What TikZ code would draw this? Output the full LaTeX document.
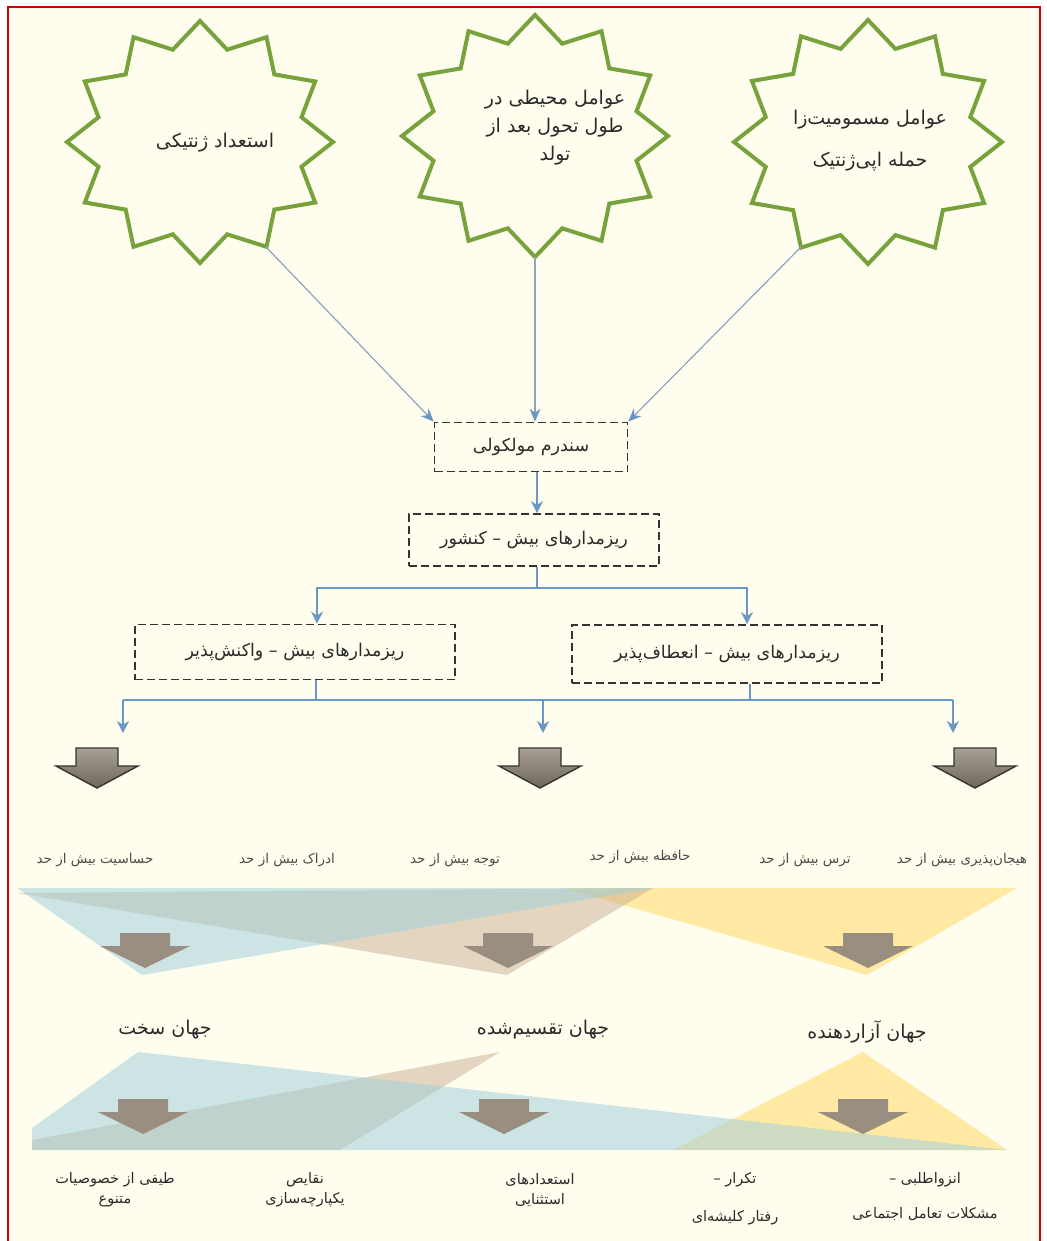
\documentclass[tikz,border=0pt]{standalone}
\usepackage{fontspec}
\newfontfamily\fafont[Script=Arabic]{DejaVu Sans}
\TeXXeTstate=1
\usetikzlibrary{arrows.meta,calc}
\definecolor{cream}{HTML}{FFFEEE}
\definecolor{stargreen}{HTML}{78A33C}
\definecolor{connblue}{HTML}{6A97C6}
\definecolor{thinline}{HTML}{8FA3BC}
\definecolor{txt}{HTML}{2A2A2A}
\definecolor{tblue}{HTML}{A3D0DA}
\definecolor{ttan}{HTML}{C9AE92}
\definecolor{tyellow}{HTML}{FFD966}
\definecolor{flatgrey}{HTML}{9A8E80}
\definecolor{arrowlight}{HTML}{A8A093}
\definecolor{arrowdark}{HTML}{6E665B}
\newcommand\fa[1]{{\fafont\beginR #1\endR}}
\newcommand\drawstar[4]{%
  \draw[starline] plot[samples at={0,...,23},variable=\k]
    ({#1+#3*(1-0.21*mod(\k,2))*cos(90+15*\k)},{#2+#4*(1-0.21*mod(\k,2))*sin(90+15*\k)}) -- cycle;}
\newcommand\bigdown[2]{%
  \draw[bigarrow] (#1-21,#2) -- (#1+21,#2) -- (#1+21,#2+18) -- (#1+41,#2+18) -- (#1,#2+40)
    -- (#1-41,#2+18) -- (#1-21,#2+18) -- cycle;}
\newcommand\flatdown[2]{%
  \fill[flatgrey] (#1-25,#2) -- (#1+25,#2) -- (#1+25,#2+13) -- (#1+45,#2+13) -- (#1,#2+35)
    -- (#1-45,#2+13) -- (#1-25,#2+13) -- cycle;}
\tikzset{
  starline/.style={draw=stargreen,line width=4pt,line join=miter},
  startext/.style={align=center,text=txt,font=\fontsize{19}{28}\selectfont},
  dbox/.style={draw=black!80,line width=1.8pt,dash pattern=on 8pt off 4pt,text=txt,
    font=\fontsize{17.5}{20}\selectfont,inner sep=0pt},
  thinconn/.style={draw=thinline,line width=1.2pt,-{Stealth[length=13pt,width=11pt,color=connblue]}},
  conn/.style={draw=connblue,line width=2.5pt,-{Stealth[length=12pt,width=12pt]}},
  connline/.style={draw=connblue,line width=2.5pt},
  bigarrow/.style={draw=black!80,line width=1.4pt,top color=arrowlight,bottom color=arrowdark,line join=miter},
  small/.style={text=black!70,font=\fontsize{13.5}{15}\selectfont},
  world/.style={text=txt,font=\fontsize{19}{22}\selectfont},
  bottomtxt/.style={text=txt,align=center,font=\fontsize{14.5}{20}\selectfont},
}
\begin{document}
\begin{tikzpicture}[x=1pt,y=-1pt]
\useasboundingbox (0,0) rectangle (1046,1241);
\fill[white] (0,0) rectangle (1046,1241);
\fill[cream] (8,7) rectangle (1040,1241);
\draw[red!80!black,line width=2pt] (8,1250) -- (8,7) -- (1040,7) -- (1040,1250);

% stars
\drawstar{200}{142}{133}{121}
\drawstar{535}{136}{133}{121}
\drawstar{868}{142}{134}{122}
\node[startext] (s1) at (215,143) {\fa{استعداد ژنتیکی}};
\node[startext] (s2) at (555,128) {\fa{عوامل محیطی در}\\\fa{طول تحول بعد از}\\\fa{تولد}};
\node[startext] (s3) at (870,141) {\fa{عوامل مسمومیت‌زا}\\[14pt]\fa{حمله اپی‌ژنتیک}};
\coordinate (s1tip) at (266,247);
\coordinate (s2tip) at (535,257);
\coordinate (s3tip) at (801,247);

% boxes
\node[dbox,minimum width=193pt,minimum height=49pt] (b1) at (531,447) {\fa{سندرم مولکولی}};
\node[dbox,minimum width=250pt,minimum height=52pt] (b2) at (534,540) {\fa{ریزمدارهای بیش – کنشور}};
\node[dbox,minimum width=320pt,minimum height=55pt] (b3) at (295,652) {\fa{ریزمدارهای بیش – واکنش‌پذیر}};
\node[dbox,minimum width=310pt,minimum height=58pt] (b4) at (727,654) {\fa{ریزمدارهای بیش – انعطاف‌پذیر}};

% connectors
\draw[thinconn] (s1tip) -- (b1.north west);
\draw[thinconn] (s2tip) -- (s2tip |- b1.north);
\draw[thinconn] (s3tip) -- (b1.north east);
\coordinate (b12) at ($(b1.south)+(6,0)$);
\draw[conn] (b12) -- (b12 |- b2.north);
\coordinate (b2out) at ($(b2.south)+(3,0)$);
\coordinate (sp1) at (537,588);
\coordinate (b3in) at ($(b3.north)+(22,0)$);
\coordinate (b4in) at ($(b4.north)+(20,0)$);
\draw[connline] (b2out) -- (sp1);
\draw[conn] (sp1) -| (b3in);
\draw[conn] (sp1) -| (b4in);
\coordinate (b3out) at ($(b3.south)+(21,0)$);
\coordinate (b4out) at ($(b4.south)+(23,0)$);
\coordinate (busL) at (123,700);
\coordinate (busM) at (543,700);
\coordinate (busR) at (953,700);
\draw[connline] (b3out) |- (busM);
\draw[connline] (b4out) |- (busM);
\draw[connline] (busL) -- (busR);
\coordinate (e1) at (123,733);
\coordinate (e2) at (543,733);
\coordinate (e3) at (953,733);
\draw[conn] (busL) -- (e1);
\draw[conn] (busM) -- (e2);
\draw[conn] (busR) -- (e3);

% big grey arrows
\bigdown{97}{748}
\bigdown{540}{748}
\bigdown{975}{748}

% labels row
\node[small] (l1) at (95,860) {\fa{حساسیت بیش از حد}};
\node[small] (l2) at (287,860) {\fa{ادراک بیش از حد}};
\node[small] (l3) at (455,860) {\fa{توجه بیش از حد}};
\node[small] (l4) at (640,857) {\fa{حافظه بیش از حد}};
\node[small] (l5) at (805,860) {\fa{ترس بیش از حد}};
\node[small] (l6) at (962,860) {\fa{هیجان‌پذیری بیش از حد}};

% triangles row 1
\fill[tyellow,fill opacity=0.55] (564,888) -- (1017,888) -- (867,975) -- cycle;
\fill[ttan,fill opacity=0.5] (17,893) -- (653,888) -- (507,975) -- cycle;
\fill[tblue,fill opacity=0.55] (17,888) -- (653,888) -- (142,975) -- cycle;
\flatdown{145}{933}
\flatdown{508}{933}
\flatdown{868}{933}

% worlds
\node[world] (w1) at (165,1030) {\fa{جهان سخت}};
\node[world] (w2) at (543,1030) {\fa{جهان تقسیم‌شده}};
\node[world] (w3) at (867,1032) {\fa{جهان آزاردهنده}};

% triangles row 2
\fill[tyellow,fill opacity=0.55] (863,1052) -- (673,1150) -- (1007,1150) -- cycle;
\fill[ttan,fill opacity=0.5] (500,1052) -- (32,1140) -- (32,1150) -- (340,1150) -- cycle;
\fill[tblue,fill opacity=0.55] (138,1052) -- (32,1128) -- (32,1150) -- (1007,1150) -- cycle;
\flatdown{143}{1099}
\flatdown{504}{1099}
\flatdown{863}{1099}

% bottom texts
\node[bottomtxt] (t1) at (115,1190) {\fa{طیفی از خصوصیات}\\\fa{متنوع}};
\node[bottomtxt] (t2) at (305,1190) {\fa{نقایص}\\\fa{یکپارچه‌سازی}};
\node[bottomtxt] (t3) at (540,1190) {\fa{استعدادهای}\\\fa{استثنایی}};
\node[bottomtxt] (t4) at (735,1199) {\fa{تکرار –}\\[18pt]\fa{رفتار کلیشه‌ای}};
\node[bottomtxt] (t5) at (925,1197) {\fa{انزواطلبی –}\\[15pt]\fa{مشکلات تعامل اجتماعی}};
\end{tikzpicture}
\end{document}
